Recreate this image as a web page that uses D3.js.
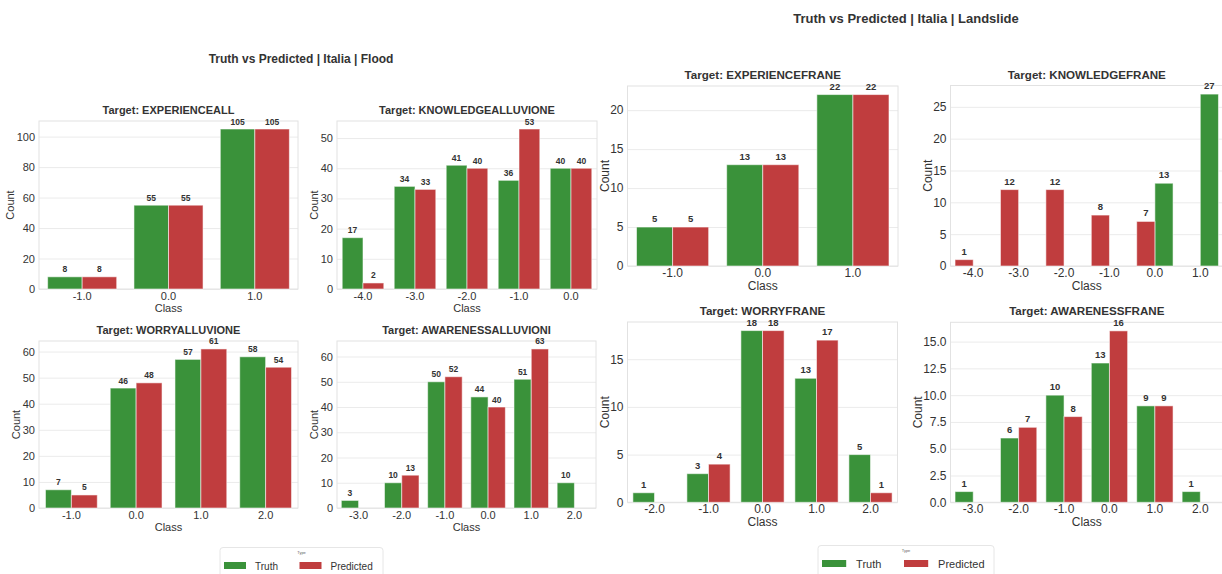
<!DOCTYPE html>
<html>
<head>
<meta charset="utf-8">
<script src="https://cdn.jsdelivr.net/npm/d3@7"></script>
<style>
  body { margin: 0; background: #fff; }
  svg { display: block; }
  text { font-family: "Liberation Sans", Arial, Helvetica, sans-serif; }
</style>
</head>
<body>
<svg id="chart" width="1222" height="574"></svg>
<script>
// ---- series ----
const hueNames = ["Truth", "Predicted"];
const hueColors = { Truth: "#3a923a", Predicted: "#c03d3e" };

// ---- Flood ----
const experienceAllClasses = [-1, 0, 1];
const experienceAllTruth = [8, 55, 105];
const experienceAllPredicted = [8, 55, 105];
const experienceAllTicks = [0, 20, 40, 60, 80, 100];

const knowledgeAlluvioneClasses = [-4, -3, -2, -1, 0];
const knowledgeAlluvioneTruth = [17, 34, 41, 36, 40];
const knowledgeAlluvionePredicted = [2, 33, 40, 53, 40];
const knowledgeAlluvioneTicks = [0, 10, 20, 30, 40, 50];

const worryAlluvioneClasses = [-1, 0, 1, 2];
const worryAlluvioneTruth = [7, 46, 57, 58];
const worryAlluvionePredicted = [5, 48, 61, 54];
const worryAlluvioneTicks = [0, 10, 20, 30, 40, 50, 60];

const awarenessAlluvioniClasses = [-3, -2, -1, 0, 1, 2];
const awarenessAlluvioniTruth = [3, 10, 50, 44, 51, 10];
const awarenessAlluvioniPredicted = [null, 13, 52, 40, 63, null];
const awarenessAlluvioniTicks = [0, 10, 20, 30, 40, 50, 60];

// ---- Landslide ----
const experienceFraneClasses = [-1, 0, 1];
const experienceFraneTruth = [5, 13, 22];
const experienceFranePredicted = [5, 13, 22];
const experienceFraneTicks = [0, 5, 10, 15, 20];

const knowledgeFraneClasses = [-4, -3, -2, -1, 0, 1];
const knowledgeFraneTruth = [null, null, null, null, 13, 27];
const knowledgeFranePredicted = [1, 12, 12, 8, 7, null];
const knowledgeFraneTicks = [0, 5, 10, 15, 20, 25];

const worryFraneClasses = [-2, -1, 0, 1, 2];
const worryFraneTruth = [1, 3, 18, 13, 5];
const worryFranePredicted = [null, 4, 18, 17, 1];
const worryFraneTicks = [0, 5, 10, 15];

const awarenessFraneClasses = [-3, -2, -1, 0, 1, 2];
const awarenessFraneTruth = [1, 6, 10, 13, 9, 1];
const awarenessFranePredicted = [null, 7, 8, 16, 9, null];
const awarenessFraneTicks = [0, 2.5, 5, 7.5, 10, 12.5, 15];

// ---- figure styles ----
const floodStyle = {
  title: "Truth vs Predicted | Italia | Flood", titleX: 301, titleY: 62.5, titleSize: 12,
  subSize: 11, tickSize: 11, labelSize: 11, valueSize: 8.5,
  tickPad: 3.5, classGap: 22.5, valueGap: 4.5, countGap: 6.5,
  legend: { x: 220, y: 547.5, w: 163, size: 10 }
};
const landslideStyle = {
  title: "Truth vs Predicted | Italia | Landslide", titleX: 906, titleY: 22.5, titleSize: 13,
  subSize: 11.6, tickSize: 12, labelSize: 12, valueSize: 9.5,
  tickPad: 2.5, classGap: 24, valueGap: 5, countGap: 5.5,
  legend: { x: 818, y: 545.5, w: 176, size: 11 }
};

const panels = [
  { style: floodStyle, name: "EXPERIENCEALL", classes: experienceAllClasses, truth: experienceAllTruth, predicted: experienceAllPredicted, ticks: experienceAllTicks, box: [39, 298, 121, 289] },
  { style: floodStyle, name: "KNOWLEDGEALLUVIONE", classes: knowledgeAlluvioneClasses, truth: knowledgeAlluvioneTruth, predicted: knowledgeAlluvionePredicted, ticks: knowledgeAlluvioneTicks, box: [337, 597, 121, 289] },
  { style: floodStyle, name: "WORRYALLUVIONE", classes: worryAlluvioneClasses, truth: worryAlluvioneTruth, predicted: worryAlluvionePredicted, ticks: worryAlluvioneTicks, box: [39, 298, 341, 508] },
  { style: floodStyle, name: "AWARENESSALLUVIONI", classes: awarenessAlluvioniClasses, truth: awarenessAlluvioniTruth, predicted: awarenessAlluvioniPredicted, ticks: awarenessAlluvioniTicks, box: [337, 596, 341, 508] },
  { style: landslideStyle, name: "EXPERIENCEFRANE", classes: experienceFraneClasses, truth: experienceFraneTruth, predicted: experienceFranePredicted, ticks: experienceFraneTicks, box: [627.5, 898, 86, 266] },
  { style: landslideStyle, name: "KNOWLEDGEFRANE", classes: knowledgeFraneClasses, truth: knowledgeFraneTruth, predicted: knowledgeFranePredicted, ticks: knowledgeFraneTicks, box: [950.5, 1223, 85.5, 266], hueOrder: ["Predicted", "Truth"] },
  { style: landslideStyle, name: "WORRYFRANE", classes: worryFraneClasses, truth: worryFraneTruth, predicted: worryFranePredicted, ticks: worryFraneTicks, box: [627.5, 897.5, 322, 502.3] },
  { style: landslideStyle, name: "AWARENESSFRANE", classes: awarenessFraneClasses, truth: awarenessFraneTruth, predicted: awarenessFranePredicted, ticks: awarenessFraneTicks, box: [950.5, 1223, 322.3, 502.3] }
];

const svg = d3.select("#chart");
const TEXT = "#333";
const GRID = "#ebebeb";
const SPINE = "#e2e2e2";

function drawPanel(p) {
  const st = p.style;
  const [x0, x1, y0, y1] = p.box;
  const g = svg.append("g");
  const order = p.hueOrder || hueNames;
  const rows = [];
  p.classes.forEach((c, i) => {
    rows.push({ cls: c, hue: "Truth", value: p.truth[i] });
    rows.push({ cls: c, hue: "Predicted", value: p.predicted[i] });
  });
  const bars = rows.filter(d => d.value != null);
  const maxV = d3.max(bars, d => d.value);

  const x = d3.scaleBand().domain(p.classes).range([x0, x1]).paddingInner(0.2).paddingOuter(0.1);
  const xh = d3.scaleBand().domain(order).range([0, x.bandwidth()]);
  const y = d3.scaleLinear().domain([0, maxV * 1.05]).range([y1, y0]);

  // horizontal grid
  g.append("g")
    .attr("transform", `translate(${x0},0)`)
    .call(d3.axisLeft(y).tickValues(p.ticks).tickSize(-(x1 - x0)).tickFormat(""))
    .call(a => a.select(".domain").remove())
    .call(a => a.selectAll("line").attr("stroke", GRID).attr("stroke-width", 1));

  // frame
  g.append("rect")
    .attr("x", x0).attr("y", y0).attr("width", x1 - x0).attr("height", y1 - y0)
    .attr("fill", "none").attr("stroke", SPINE).attr("stroke-width", 1);

  // bars
  g.selectAll("rect.bar").data(bars).join("rect")
    .attr("class", "bar")
    .attr("x", d => x(d.cls) + xh(d.hue))
    .attr("width", xh.bandwidth())
    .attr("y", d => y(d.value))
    .attr("height", d => y(0) - y(d.value))
    .attr("fill", d => hueColors[d.hue])
    .attr("stroke", "rgba(255,255,255,0.55)")
    .attr("stroke-width", 1);

  // value labels
  g.selectAll("text.val").data(bars).join("text")
    .attr("class", "val")
    .attr("x", d => x(d.cls) + xh(d.hue) + xh.bandwidth() / 2)
    .attr("y", d => y(d.value) - st.valueGap)
    .attr("text-anchor", "middle")
    .attr("font-size", st.valueSize)
    .attr("font-weight", "bold")
    .attr("fill", TEXT)
    .text(d => d.value);

  // y tick labels
  const fmtY = p.ticks.some(t => !Number.isInteger(t)) ? d3.format(".1f") : d3.format("d");
  const yAxis = g.append("g")
    .attr("transform", `translate(${x0},0)`)
    .call(d3.axisLeft(y).tickValues(p.ticks).tickSize(0).tickPadding(4).tickFormat(fmtY));
  yAxis.select(".domain").remove();
  yAxis.selectAll("text").attr("font-size", st.tickSize).attr("fill", TEXT).attr("font-family", null);
  let tickW = 0;
  yAxis.selectAll("text").each(function () { tickW = Math.max(tickW, this.getComputedTextLength()); });

  // x tick labels
  const xAxis = g.append("g")
    .attr("transform", `translate(0,${y1})`)
    .call(d3.axisBottom(x).tickSize(0).tickPadding(st.tickPad).tickFormat(d => d.toFixed(1)));
  xAxis.select(".domain").remove();
  xAxis.selectAll("text").attr("font-size", st.tickSize).attr("fill", TEXT).attr("font-family", null);

  // axis labels
  g.append("text")
    .attr("x", (x0 + x1) / 2).attr("y", y1 + st.classGap)
    .attr("text-anchor", "middle").attr("font-size", st.labelSize).attr("fill", TEXT)
    .text("Class");
  const cx = x0 - 4 - tickW - st.countGap;
  const cy = (y0 + y1) / 2;
  g.append("text")
    .attr("transform", `translate(${cx},${cy}) rotate(-90)`)
    .attr("text-anchor", "middle").attr("dy", "0.35em")
    .attr("font-size", st.labelSize).attr("fill", TEXT)
    .text("Count");

  // panel title
  g.append("text")
    .attr("x", (x0 + x1) / 2).attr("y", y0 - 7)
    .attr("text-anchor", "middle").attr("font-size", st.subSize).attr("font-weight", "bold")
    .attr("fill", TEXT)
    .text(`Target: ${p.name}`);
}

function drawFigureChrome(st) {
  svg.append("text")
    .attr("x", st.titleX).attr("y", st.titleY)
    .attr("text-anchor", "middle").attr("font-size", st.titleSize).attr("font-weight", "bold")
    .attr("fill", TEXT)
    .text(st.title);

  const L = st.legend;
  const lg = svg.append("g");
  lg.append("rect")
    .attr("x", L.x).attr("y", L.y).attr("width", L.w).attr("height", 40)
    .attr("rx", 3).attr("fill", "#fff").attr("stroke", "#e6e6e6");
  lg.append("text")
    .attr("x", L.x + L.w / 2).attr("y", L.y + 6.5)
    .attr("text-anchor", "middle").attr("font-size", 4).attr("fill", "#666")
    .text("Type");
  const k = L.size / 10;
  const slotX = [4, 4 + (L.w - 8) / 2 - 2];
  hueNames.forEach((h, i) => {
    const sx = L.x + slotX[i];
    lg.append("rect")
      .attr("x", sx).attr("y", L.y + 14.5).attr("width", 22 * k).attr("height", 7)
      .attr("fill", hueColors[h]);
    lg.append("text")
      .attr("x", sx + 22 * k + 9 * k).attr("y", L.y + 22)
      .attr("font-size", L.size).attr("fill", TEXT)
      .text(h);
  });
}

panels.forEach(drawPanel);
drawFigureChrome(floodStyle);
drawFigureChrome(landslideStyle);
</script>
</body>
</html>
